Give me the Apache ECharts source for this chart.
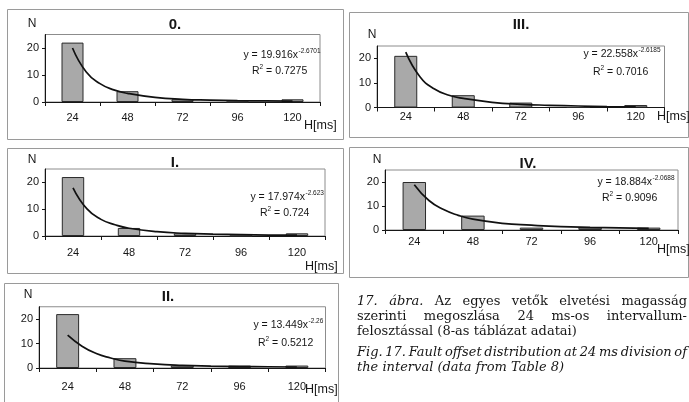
<!DOCTYPE html>
<html>
<head>
<meta charset="utf-8">
<script src="https://cdn.jsdelivr.net/npm/echarts@6/dist/echarts.min.js"></script>
<style>
html,body{margin:0;padding:0;background:#fff;}
#c{width:689px;height:402px;}
</style>
</head>
<body>
<div id="c"></div>
<script>
// ---------- DATA ----------
const categories = ['24', '48', '72', '96', '120'];
const panelTitles = ['0.', 'III.', 'I.', 'IV.', 'II.'];
const counts0 = [22, 4, 1, 0, 1];
const countsIII = [21, 5, 2, 0, 1];
const countsI = [22, 3, 1, 0, 1];
const countsIV = [20, 6, 1, 1, 1];
const countsII = [22, 4, 1, 1, 1];
// trend curve points (x = category position 1..5)
const trendX = [1, 1.25, 1.5, 1.75, 2, 2.5, 3, 3.5, 4, 4.5, 5];
const trend0 = [20, 11.1, 6.8, 4.5, 3.2, 1.7, 1.0, 0.7, 0.5, 0.4, 0.3];
const trendIII = [22.5, 12.4, 7.5, 5.0, 3.7, 2.1, 1.3, 0.9, 0.6, 0.4, 0.3];
const trendI = [18, 10.1, 6.2, 4.2, 2.9, 1.6, 1.0, 0.7, 0.5, 0.35, 0.3];
const trendIV = [18.9, 12.3, 8.5, 6.1, 4.5, 2.8, 2.0, 1.4, 1.1, 0.9, 0.7];
const trendII = [13.4, 8.9, 5.9, 4.1, 2.8, 1.7, 1.1, 0.8, 0.6, 0.5, 0.4];
const eqMain = ['y = 19.916x', 'y = 22.558x', 'y = 17.974x', 'y = 18.884x', 'y = 13.449x'];
const eqExp = ['-2.6701', '-2.6185', '-2.623', '-2.0688', '-2.26'];
const r2Values = ['0.7275', '0.7016', '0.724', '0.9096', '0.5212'];
const yTickValues = [0, 10, 20];
const yMax = 25;
const yLabel = 'N';
const xLabel = 'H[ms]';
const captionHu = [
  ['17. ábra.', 'Az egyes vetők elvetési magasság'],
  ['', 'szerinti megoszlása 24 ms-os intervallum-'],
  ['', 'felosztással (8-as táblázat adatai)']
];
const captionEn = [
  'Fig. 17. Fault offset distribution at 24 ms division of',
  'the interval (data from Table 8)'
];

const allCounts = [counts0, countsIII, countsI, countsIV, countsII];
const allTrends = [trend0, trendIII, trendI, trendIV, trendII];

// ---------- LAYOUT ----------
const layout = [
  {box: [7, 9, 336, 130], grid: {left: 45, top: 34.5, width: 275, height: 67.5}, n: [32, 24], title: [175, 25], eqX: 298, eqY: 55, r2X: 252, r2Y: 71, lm: 10, h: [304, 126]},
  {box: [349, 12, 339, 125], grid: {left: 377, top: 46, width: 287.5, height: 61.5}, n: [372, 35], title: [521, 25], eqX: 638, eqY: 54, r2X: 593, r2Y: 72, lm: 4, h: [657, 117]},
  {box: [7, 148, 336, 125], grid: {left: 45, top: 169, width: 280, height: 67}, n: [32, 160], title: [175, 163], eqX: 305, eqY: 197, r2X: 260, r2Y: 213, lm: 11.5, h: [305, 267]},
  {box: [349, 147, 339, 130], grid: {left: 385, top: 170, width: 293, height: 60}, n: [377, 160], title: [528, 164], eqX: 652, eqY: 182, r2X: 602, r2Y: 198, lm: 6.5, h: [657, 250]},
  {box: [4, 283, 334, 125], grid: {left: 39, top: 306.75, width: 286.5, height: 61.25}, n: [28, 295], title: [168, 297], eqX: 308, eqY: 325, r2X: 258, r2Y: 343, lm: 13, h: [305, 390]}
];

const SANS = '"Liberation Sans", Arial, sans-serif';
const SERIF = '"DejaVu Serif", "Liberation Serif", serif';
const ink = '#161616';

const grids = [], xAxes = [], yAxes = [], series = [], graphics = [];

function txt(x, y, text, font, align, vAlign) {
  graphics.push({
    type: 'text', x: x, y: y, silent: true,
    style: {text: text, font: font, fill: ink, align: align || 'left', verticalAlign: vAlign || 'middle',
            textAlign: align || 'left', textVerticalAlign: vAlign || 'middle'}
  });
}

layout.forEach((L, i) => {
  graphics.push({type: 'rect', silent: true, shape: {x: L.box[0] + 0.5, y: L.box[1] + 0.5, width: L.box[2], height: L.box[3]},
    style: {fill: 'none', stroke: '#9a9a9a', lineWidth: 1}});
  grids.push({left: L.grid.left, top: L.grid.top, width: L.grid.width, height: L.grid.height,
    show: true, borderColor: '#8c8c8c', borderWidth: 1, backgroundColor: 'transparent'});
  xAxes.push({type: 'category', gridIndex: i, data: categories, boundaryGap: true,
    axisLine: {lineStyle: {color: ink, width: 1}},
    axisTick: {show: true, length: 4, inside: false, alignWithLabel: false, interval: 0, lineStyle: {color: ink}},
    axisLabel: {color: ink, fontSize: 11, fontFamily: SANS, margin: L.lm, interval: 0},
    splitLine: {show: false}});
  yAxes.push({type: 'value', gridIndex: i, min: 0, max: yMax,
    axisLine: {show: true, lineStyle: {color: ink, width: 1}},
    axisTick: {show: true, length: 3, customValues: yTickValues, lineStyle: {color: ink}},
    axisLabel: {color: ink, fontSize: 11, fontFamily: SANS, margin: 6, customValues: yTickValues},
    splitLine: {show: false}});
  series.push({type: 'bar', xAxisIndex: i, yAxisIndex: i, data: allCounts[i], barWidth: '40%', silent: true,
    itemStyle: {color: '#a9a9a9', borderColor: '#2a2a2a', borderWidth: 1}});

  // titles & texts
  txt(L.n[0], L.n[1], yLabel, '12px ' + SANS, 'center');
  txt(L.title[0], L.title[1], panelTitles[i], 'bold 15px ' + SANS, 'center');
  txt(L.eqX, L.eqY, eqMain[i], '10.5px ' + SANS, 'right');
  txt(L.eqX + 0.5, L.eqY - 4, eqExp[i], '6.5px ' + SANS, 'left');
  txt(L.r2X, L.r2Y, 'R', '10.5px ' + SANS, 'left');
  txt(L.r2X + 7.6, L.r2Y - 4, '2', '6.5px ' + SANS, 'left');
  txt(L.r2X + 11.2, L.r2Y, ' = ' + r2Values[i], '10.5px ' + SANS, 'left');
  txt(L.h[0], L.h[1], xLabel, '12.5px ' + SANS, 'left');
});
// hidden value axes for trend curves
layout.forEach((L, i) => {
  xAxes.push({type: 'value', gridIndex: i, min: 0.5, max: 5.5, show: false});
  series.push({type: 'line', xAxisIndex: 5 + i, yAxisIndex: i, smooth: true, showSymbol: false, silent: true,
    data: trendX.map((x, j) => [x, allTrends[i][j]]),
    lineStyle: {color: '#111', width: 1.7}});
});

// ---------- CAPTION (justified via measured widths) ----------
const mc = document.createElement('canvas').getContext('2d');
function measure(font, s) { mc.font = font; return mc.measureText(s).width; }
const capLeft = 357, capRight = 687;
const fN = '13px ' + SERIF, fI = 'italic 13px ' + SERIF;
function justify(words, y, justifyIt) {
  const widths = words.map(w => measure(w.f, w.t));
  const total = widths.reduce((a, b) => a + b, 0);
  let gap = justifyIt ? (capRight - capLeft - total) / (words.length - 1) : measure(words[0].f, ' ');
  let x = capLeft;
  words.forEach((w, k) => { txt(x, y, w.t, w.f, 'left'); x += widths[k] + gap; });
}
const capY = [302, 317, 332, 353, 368];
captionHu.forEach((line, k) => {
  const words = [];
  if (line[0]) line[0].split(' ').forEach(t => words.push({t: t, f: fI}));
  line[1].split(' ').forEach(t => words.push({t: t, f: fN}));
  justify(words, capY[k], k < 2);
});
captionEn.forEach((line, k) => {
  justify(line.split(' ').map(t => ({t: t, f: fI})), capY[3 + k], k === 0);
});

const chart = echarts.init(document.getElementById('c'), null, {renderer: 'canvas'});
chart.setOption({
  animation: false,
  backgroundColor: '#fff',
  grid: grids, xAxis: xAxes, yAxis: yAxes, series: series,
  graphic: graphics
});
</script>
</body>
</html>
